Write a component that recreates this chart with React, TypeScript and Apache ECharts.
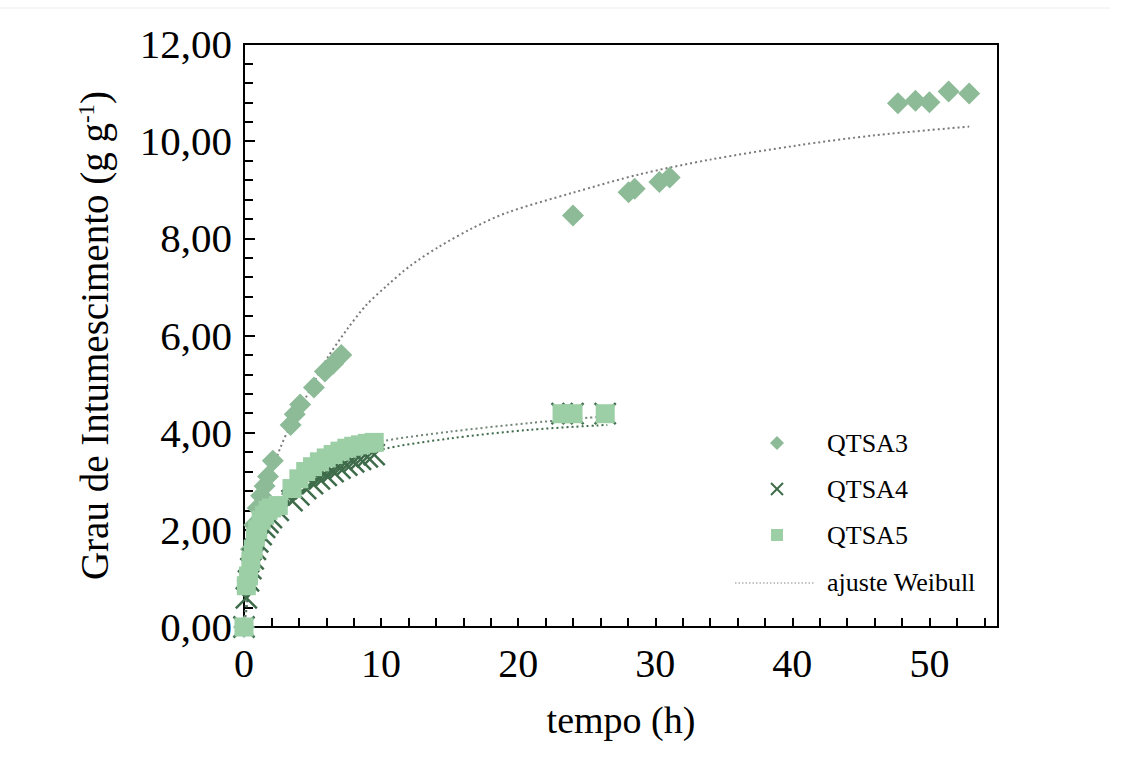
import React, { useEffect, useRef } from "react";
import * as echarts from "echarts";

// ---- data ----
const t3 = [0, 0.25, 0.5, 0.75, 1.0, 1.25, 1.5, 1.75, 2.1, 3.4, 3.7, 4.1, 5.1, 5.9, 6.5, 7.1, 24.0, 28.05, 28.5, 30.3, 31.05, 47.7, 48.98, 50.0, 51.4, 52.9];
const qtsa3 = [0, 0.95, 1.6, 2.1, 2.45, 2.7, 2.9, 3.1, 3.42, 4.16, 4.38, 4.58, 4.93, 5.26, 5.42, 5.6, 8.47, 8.95, 9.02, 9.16, 9.25, 10.78, 10.83, 10.8, 11.02, 10.98];

const t4 = [0, 0.17, 0.33, 0.5, 0.67, 0.83, 1.0, 1.25, 1.5, 1.75, 2.0, 2.5, 3.5, 4.0, 4.5, 5.0, 5.5, 6.0, 6.5, 7.0, 7.5, 8.0, 8.5, 9.0, 9.5, 23.2, 24.0, 26.35];
const qtsa4 = [0, 0.6, 0.95, 1.2, 1.4, 1.6, 1.75, 1.9, 2.05, 2.15, 2.25, 2.4, 2.6, 2.72, 2.85, 2.95, 3.05, 3.12, 3.2, 3.27, 3.33, 3.4, 3.45, 3.5, 3.55, 4.39, 4.39, 4.39];

const t5 = [0, 0.17, 0.33, 0.5, 0.67, 0.83, 1.0, 1.25, 1.5, 1.75, 2.0, 2.5, 3.5, 4.0, 4.5, 5.0, 5.5, 6.0, 6.5, 7.0, 7.5, 8.0, 8.5, 9.0, 9.5, 23.2, 24.0, 26.35];
const qtsa5 = [0, 0.85, 1.05, 1.35, 1.6, 1.85, 2.0, 2.2, 2.3, 2.4, 2.45, 2.5, 2.85, 3.05, 3.2, 3.3, 3.4, 3.48, 3.55, 3.62, 3.68, 3.72, 3.75, 3.78, 3.8, 4.39, 4.39, 4.39];

// Weibull fit curves
const fitT3 = [0, 0.3, 0.7, 1.2, 1.8, 2.5, 3.3, 4.7, 6.0, 7.5, 8.9, 10.4, 12.2, 14.3, 16.6, 19.2, 24.0, 28.9, 34.0, 40.3, 46.0, 52.9];
const fit3 = [0, 0.6, 1.6, 2.4, 3.0, 3.58, 4.1, 4.82, 5.5, 6.12, 6.62, 7.02, 7.45, 7.84, 8.2, 8.53, 8.94, 9.32, 9.62, 9.91, 10.12, 10.3];
const fitT4 = [0, 0.3, 0.7, 1.2, 2.0, 3.0, 4.0, 5.0, 6.0, 7.0, 8.0, 10.0, 15.0, 20.9, 26.5];
const fit4 = [0, 0.7, 1.3, 1.75, 2.2, 2.5, 2.75, 2.95, 3.12, 3.27, 3.4, 3.65, 3.88, 4.06, 4.16];
const fitT5 = [0, 0.3, 0.7, 1.2, 2.0, 3.0, 4.0, 5.0, 6.0, 7.0, 8.0, 10.0, 15.0, 20.9, 26.5];
const fit5 = [0, 0.9, 1.55, 2.0, 2.45, 2.8, 3.05, 3.25, 3.4, 3.55, 3.65, 3.82, 4.02, 4.2, 4.34];

const legendNames = ["QTSA3", "QTSA4", "QTSA5", "ajuste Weibull"];
const xTitle = "tempo (h)";

const zip = (xs: number[], ys: number[]) => xs.map((x, i) => [x, ys[i]]);

const C3 = "#8dbb98";
const C4 = "#3e6c4a";
const C5 = "#9ccfa6";
const FONT = "'Liberation Serif', 'Times New Roman', serif";
const CROSS = "path://M0,0L10,10M10,0L0,10";

export default function App() {
  const ref = useRef<HTMLDivElement>(null);
  useEffect(() => {
    if (!ref.current) return;
    const chart = echarts.init(ref.current, null, { renderer: "svg" });
    const lx = 777;
    const tx = 827;
    const ly = [443, 489, 535, 582];
    const fitLine = (name: string, xs: number[], ys: number[], color: string) => ({
      type: "line",
      name,
      data: zip(xs, ys),
      smooth: 0.3,
      showSymbol: false,
      symbol: "none",
      lineStyle: { color, width: 2, type: [2, 3] },
      z: 1,
    });
    chart.setOption({
      animation: false,
      backgroundColor: "#ffffff",
      grid: {
        left: 244,
        right: 124,
        top: 44,
        bottom: 149,
        show: true,
        borderColor: "#000",
        borderWidth: 2,
        backgroundColor: "transparent",
      },
      xAxis: {
        type: "value",
        min: 0,
        max: 55,
        interval: 2,
        name: xTitle,
        nameLocation: "middle",
        nameGap: 74,
        nameTextStyle: { fontFamily: FONT, fontSize: 38, color: "#000" },
        axisLine: { show: true, onZero: false, lineStyle: { color: "#000", width: 2 } },
        axisTick: { show: true, inside: true, length: 9, lineStyle: { color: "#000", width: 2 } },
        splitLine: { show: false },
        axisLabel: {
          margin: 16,
          fontFamily: FONT,
          fontSize: 40,
          color: "#000",
          showMaxLabel: false,
          formatter: (v: number) => (Math.abs(v % 10) < 1e-6 ? String(v) : ""),
        },
      },
      yAxis: {
        type: "value",
        min: 0,
        max: 12,
        interval: 2,
        name: "Grau de Intumescimento (g g{sup|-1})",
        nameLocation: "middle",
        nameRotate: 90,
        nameGap: 130,
        nameTextStyle: {
          fontFamily: FONT,
          fontSize: 39,
          color: "#000",
          rich: {
            sup: { fontFamily: FONT, fontSize: 23, color: "#000", verticalAlign: "top", lineHeight: 30 },
          },
        },
        axisLine: { show: true, lineStyle: { color: "#000", width: 2 } },
        axisTick: { show: true, inside: true, length: 11, lineStyle: { color: "#000", width: 2 } },
        minorTick: { show: true, splitNumber: 5, length: 9, lineStyle: { color: "#000", width: 2 } },
        splitLine: { show: false },
        axisLabel: {
          margin: 12,
          fontFamily: FONT,
          fontSize: 41,
          color: "#000",
          formatter: (v: number) => v.toFixed(2).replace(".", ","),
        },
      },
      series: [
        fitLine("fit3", fitT3, fit3, "#7a7a7a"),
        fitLine("fit4", fitT4, fit4, "#3e6c4a"),
        fitLine("fit5", fitT5, fit5, "#6f8575"),
        {
          type: "scatter",
          name: legendNames[0],
          data: zip(t3, qtsa3),
          symbol: "diamond",
          symbolSize: 22,
          itemStyle: { color: C3, opacity: 1 },
          z: 3,
        },
        {
          type: "scatter",
          name: legendNames[1],
          data: zip(t4, qtsa4),
          symbol: CROSS,
          symbolSize: 21,
          itemStyle: { color: "none", borderColor: C4, borderWidth: 2.5, opacity: 1 },
          z: 4,
        },
        {
          type: "scatter",
          name: legendNames[2],
          data: zip(t5, qtsa5),
          symbol: "rect",
          symbolSize: 19,
          itemStyle: { color: C5, opacity: 1 },
          z: 5,
        },
      ],
      graphic: [
        { type: "line", shape: { x1: 0, y1: 8, x2: 1110, y2: 8 }, style: { stroke: "#ececec", lineWidth: 1 } },
        { type: "polygon", shape: { points: [[lx, ly[0] - 7], [lx + 7, ly[0]], [lx, ly[0] + 7], [lx - 7, ly[0]]] }, style: { fill: C3 } },
        { type: "line", shape: { x1: lx - 6, y1: ly[1] - 6, x2: lx + 6, y2: ly[1] + 6 }, style: { stroke: C4, lineWidth: 2 } },
        { type: "line", shape: { x1: lx + 6, y1: ly[1] - 6, x2: lx - 6, y2: ly[1] + 6 }, style: { stroke: C4, lineWidth: 2 } },
        { type: "rect", shape: { x: lx - 6, y: ly[2] - 6, width: 12, height: 12 }, style: { fill: C5 } },
        { type: "line", shape: { x1: 735, y1: ly[3] + 1, x2: 815, y2: ly[3] + 1 }, style: { stroke: "#8a8a8a", lineWidth: 1.2, lineDash: [1.5, 2] } },
        ...legendNames.map((n, i) => ({
          type: "text",
          x: tx,
          y: ly[i],
          style: { text: n, fontFamily: FONT, fontSize: 26, fill: "#000", textVerticalAlign: "middle", textAlign: "left" },
        })),
      ],
    });
    return () => chart.dispose();
  }, []);
  return (
    <div
      ref={ref}
      style={{ position: "fixed", left: 0, top: 0, width: 1122, height: 776, background: "#fff" }}
    />
  );
}
